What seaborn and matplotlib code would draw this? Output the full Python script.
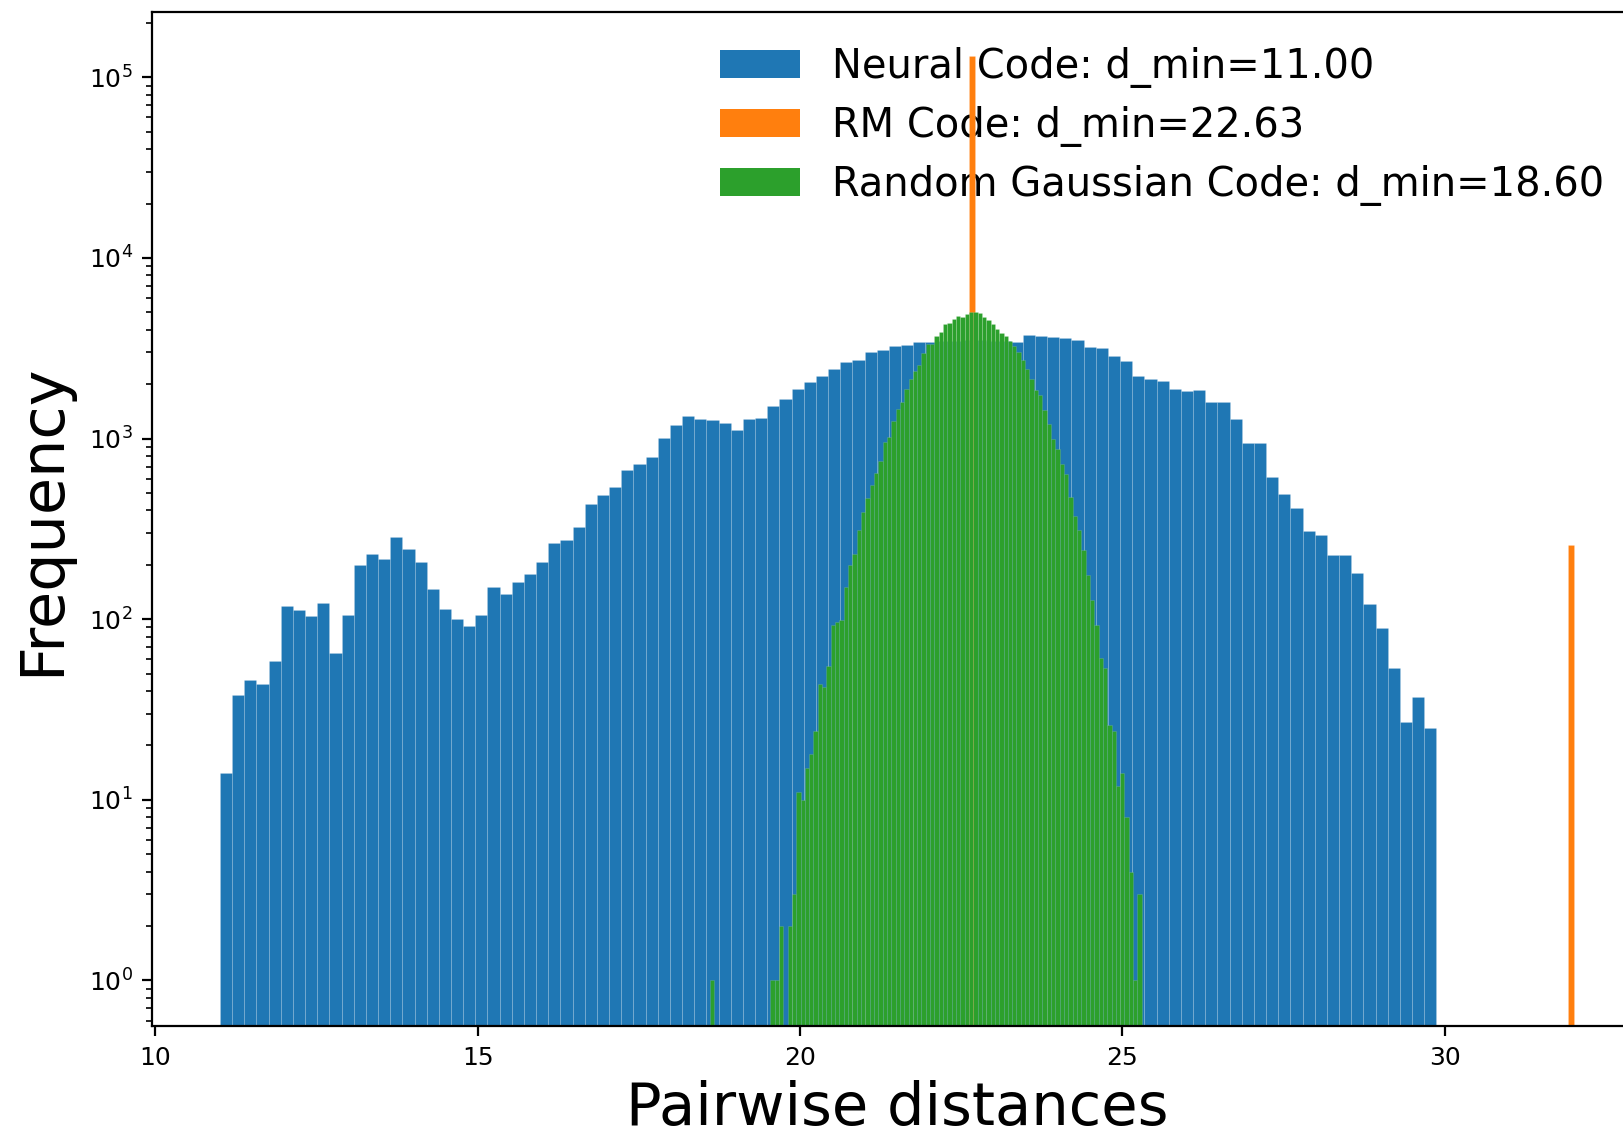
import numpy as np
import matplotlib
matplotlib.use("Agg")
import matplotlib.pyplot as plt
from matplotlib.patches import Patch
import seaborn as sns

# ---- data -------------------------------------------------------------
# Neural code: 100 equal-width bins between d_min and d_max
neural_dmin, neural_dmax = 11.00, 29.87
neural_counts = [
    14, 38, 46, 44, 59, 118, 113, 104, 123, 65,
    105, 200, 231, 216, 286, 244, 207, 147, 114, 100,
    92, 106, 150, 138, 160, 179, 207, 264, 275, 322,
    434, 489, 539, 670, 721, 787, 1006, 1194, 1339, 1285,
    1265, 1222, 1115, 1285, 1300, 1517, 1663, 1878, 2046, 2228,
    2443, 2645, 2738, 3007, 3097, 3273, 3289, 3420, 3420, 3450,
    3480, 3500, 3510, 3490, 3460, 3436, 3727, 3707, 3658, 3588,
    3503, 3231, 3170, 2852, 2698, 2225, 2144, 2093, 1883, 1846,
    1870, 1592, 1601, 1289, 950, 944, 615, 495, 411, 308,
    292, 226, 228, 181, 121, 89, 54, 27, 37, 25,
]

# Random Gaussian code: 100 equal-width bins between d_min and d_max
gauss_dmin, gauss_dmax = 18.60, 25.30
gaussian_counts = [
    1, 0, 0, 0, 0, 0, 0, 0, 0, 0,
    0, 0, 0, 0, 1, 1, 2, 0, 2, 3,
    11, 10, 15, 18, 24, 44, 42, 55, 93, 96,
    99, 150, 200, 230, 313, 394, 468, 554, 648, 753,
    959, 1026, 1253, 1466, 1603, 1877, 2132, 2370, 2560, 2972,
    3334, 3358, 3719, 3881, 4316, 4387, 4600, 4745, 4687, 4897,
    5020, 5020, 4955, 4720, 4519, 4325, 4064, 3866, 3680, 3479,
    3270, 3017, 2715, 2427, 2143, 1870, 1735, 1431, 1211, 993,
    877, 723, 638, 477, 372, 313, 241, 175, 128, 93,
    61, 54, 26, 24, 12, 14, 8, 4, 1, 3,
]

# RM code: only two distinct pairwise distances occur
rm_distances = [22.627, 32.0]
rm_pair_counts = [130560, 256]

legend_labels = [
    "Neural Code: d_min=11.00",
    "RM Code: d_min=22.63",
    "Random Gaussian Code: d_min=18.60",
]
colors = ["#1f77b4", "#ff7f0e", "#2ca02c"]
n_bins = 100

# ---- figure -------------------------------------------------------------
fig = plt.figure(figsize=(8.12, 5.67), dpi=200)
ax = fig.add_axes([0.0937, 0.0949, 1.0107 - 0.0937, 0.9891 - 0.0949])

bar_kws = dict(alpha=1.0, edgecolor=(1, 1, 1, 0.18), linewidth=0.25, ax=ax)


def bin_centers(lo, hi, n):
    edges = np.linspace(lo, hi, n + 1)
    return 0.5 * (edges[:-1] + edges[1:])


sns.histplot(x=bin_centers(neural_dmin, neural_dmax, n_bins),
             weights=neural_counts, bins=n_bins,
             binrange=(neural_dmin, neural_dmax), color=colors[0], **bar_kws)

sns.histplot(x=rm_distances, weights=rm_pair_counts, bins=n_bins,
             color=colors[1], **bar_kws)

sns.histplot(x=bin_centers(gauss_dmin, gauss_dmax, n_bins),
             weights=gaussian_counts, bins=n_bins,
             binrange=(gauss_dmin, gauss_dmax), color=colors[2], **bar_kws)

ax.set_yscale("log")
ax.set_ylim(0.557, 2.29e5)
ax.set_xlim(9.95, 33.05)
ax.set_xticks([10, 15, 20, 25, 30])
ax.tick_params(labelsize=9)

ax.set_xlabel("Pairwise distances", fontsize=21.3, labelpad=3.5)
ax.set_ylabel("Frequency", fontsize=21.8, labelpad=6)

handles = [Patch(facecolor=c, edgecolor="none") for c in colors]
leg = ax.legend(handles, legend_labels, loc="upper left",
                bbox_to_anchor=(0.4338, 0.9725), bbox_transform=fig.transFigure,
                frameon=False, fontsize=14.4, labelspacing=0.45,
                borderaxespad=0)
leg.set_zorder(0.9)

fig.savefig("out.png", dpi=200)
